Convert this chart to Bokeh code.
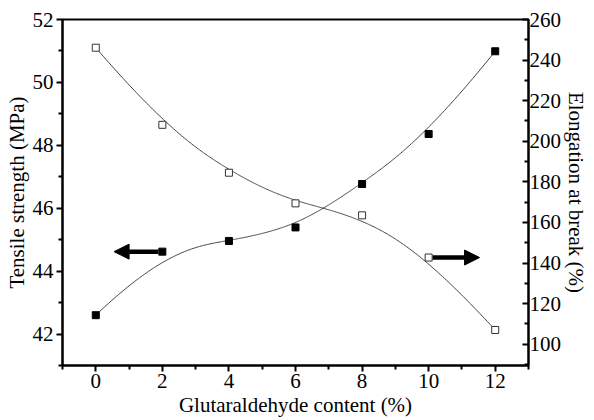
import numpy as np
from bokeh.plotting import figure
from bokeh.models import Range1d, LinearAxis, Arrow, NormalHead, FixedTicker
from bokeh.embed import file_html
from bokeh.resources import INLINE

# ---- data ----
content = [0, 2, 4, 6, 8, 10, 12]
tensile = [42.60, 44.62, 44.96, 45.39, 46.77, 48.36, 50.99]
elongation = [246.1, 208.1, 184.5, 169.4, 163.5, 142.7, 107.0]

x_ticks = [0, 2, 4, 6, 8, 10, 12]
x_minor = [-1, 1, 3, 5, 7, 9, 11, 13]
left_ticks = [42, 44, 46, 48, 50, 52]
left_minor = [41, 43, 45, 47, 49, 51]
right_ticks = [100, 120, 140, 160, 180, 200, 220, 240, 260]
right_minor = [90, 110, 130, 150, 170, 190, 210, 230, 250]

FONT = "Liberation Serif"
FS = "21px"


def bspline(xs, ys, n=300, k=3):
    P = np.column_stack([xs, ys]).astype(float)
    m = len(P)
    t = np.concatenate([[0] * (k + 1), np.arange(1, m - k), [m - k] * (k + 1)]).astype(float)
    u = np.linspace(0, m - k, n)
    u[-1] -= 1e-9

    def basis(i, d, u):
        if d == 0:
            return ((t[i] <= u) & (u < t[i + 1])).astype(float)
        a = 0.0 if t[i + d] == t[i] else (u - t[i]) / (t[i + d] - t[i]) * basis(i, d - 1, u)
        b = 0.0 if t[i + d + 1] == t[i + 1] else (t[i + d + 1] - u) / (t[i + d + 1] - t[i + 1]) * basis(i + 1, d - 1, u)
        return a + b

    B = np.array([basis(i, k, u) for i in range(m)])
    C = B.T @ P
    return C[:, 0], C[:, 1]


p = figure(width=594, height=420,
           x_range=Range1d(-1, 13), y_range=Range1d(41, 52),
           output_backend="svg", toolbar_location=None,
           min_border_left=62, min_border_top=19, min_border_right=66, min_border_bottom=55,
           x_axis_label="Glutaraldehyde content (%)",
           y_axis_label="Tensile strength (MPa)")
p.extra_y_ranges = {"elong": Range1d(89.5, 260)}
p.add_layout(LinearAxis(y_range_name="elong", axis_label="Elongation at break (%)"), "right")

p.xgrid.visible = False
p.ygrid.visible = False
p.outline_line_color = "black"
p.outline_line_width = 2
p.outline_line_alpha = 1.0

p.xaxis.ticker = FixedTicker(ticks=x_ticks, minor_ticks=x_minor)
p.yaxis[0].ticker = FixedTicker(ticks=left_ticks, minor_ticks=left_minor)
p.yaxis[1].ticker = FixedTicker(ticks=right_ticks, minor_ticks=right_minor)

for ax in p.axis:
    ax.axis_line_width = 2
    ax.axis_line_color = "black"
    ax.major_tick_line_width = 2
    ax.minor_tick_line_width = 2
    ax.major_tick_line_color = "black"
    ax.minor_tick_line_color = "black"
    ax.major_label_text_font = FONT
    ax.major_label_text_font_size = FS
    ax.major_label_text_color = "black"
    ax.axis_label_text_font = FONT
    ax.axis_label_text_font_size = FS
    ax.axis_label_text_font_style = "normal"
    ax.axis_label_text_color = "black"
    ax.major_tick_in = 0
    ax.major_tick_out = 6
    ax.minor_tick_in = 0
    ax.minor_tick_out = 4
    ax.major_label_standoff = 3
    ax.axis_label_standoff = 1

p.xaxis.major_label_standoff = 2
p.xaxis.axis_label_standoff = 2

# right axis ticks point inward
p.yaxis[1].major_tick_out = 0
p.yaxis[1].major_tick_in = 6
p.yaxis[1].minor_tick_out = 0
p.yaxis[1].minor_tick_in = 4
p.yaxis[1].major_label_standoff = 1
p.yaxis[1].axis_label_standoff = 0

# smooth curves
cx, cy = bspline(content, tensile)
p.line(cx, cy, line_color="#444444", line_width=1)
ex, ey = bspline(content, elongation)
p.line(ex, ey, line_color="#444444", line_width=1, y_range_name="elong")

# arrows
p.add_layout(Arrow(end=NormalHead(size=15, fill_color="black", line_color="black", line_width=1),
                   x_start=content[1] - 0.12, y_start=tensile[1],
                   x_end=content[1] - 1.45, y_end=tensile[1],
                   line_width=4.5, line_color="black"))
p.add_layout(Arrow(end=NormalHead(size=15, fill_color="black", line_color="black", line_width=1),
                   x_start=content[5] + 0.12, y_start=elongation[5],
                   x_end=content[5] + 1.53, y_end=elongation[5],
                   line_width=4.5, line_color="black", y_range_name="elong"))

# markers
p.scatter(content, tensile, marker="square", size=7, fill_color="black", line_color="black")
p.scatter(content, elongation, marker="square", size=7, fill_color="white",
          line_color="#333333", line_width=1, y_range_name="elong")

open("out.html", "w").write(file_html(p, INLINE))
